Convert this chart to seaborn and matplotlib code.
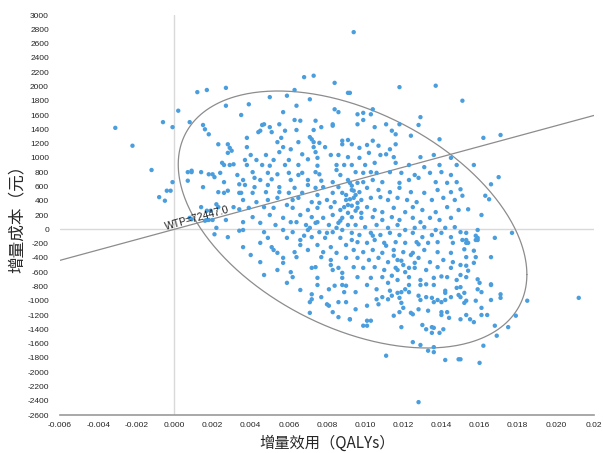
import numpy as np
import pandas as pd
import matplotlib
matplotlib.use("Agg")
import matplotlib.pyplot as plt
import seaborn as sns

# Incremental QALYs and incremental cost (yuan) of the simulated replicates,
# grouped by region of the cost-effectiveness plane.
qaly_outer = [-0.0031, -0.0022, -0.0012, -0.0001, -0.0004, -0.0002, -0.0008, -0.0005, 0.0002, -0.0006,
              -0.0001, 0.0008, 0.0012, 0.0017, 0.0027, 0.0027, 0.0015, 0.0016, 0.0018, 0.0023,
              0.0028, 0.0029, 0.0035, 0.0094, 0.0068, 0.0073, 0.0084, 0.0118, 0.0137, 0.0151,
              0.0162, 0.0171]
cost_outer = [1420, 1170, 830, 660, 540, 540, 450, 400, 1660, 1500,
              1430, 1500, 1920, 1950, 1980, 1730, 1460, 1400, 1330, 1190,
              1190, 1140, 1600, 2760, 2130, 2150, 2050, 1990, 2010, 1800,
              1280, 1320]

qaly_upper_left = [0.0063, 0.0050, 0.0059, 0.0071, 0.0039, 0.0057, 0.0064, 0.0084, 0.0086, 0.0091,
                   0.0046, 0.0047, 0.0050, 0.0055, 0.0063, 0.0066, 0.0074, 0.0083, 0.0083, 0.0045,
                   0.0044, 0.0051, 0.0058, 0.0064, 0.0073, 0.0077, 0.0038, 0.0056, 0.0054, 0.0065,
                   0.0071, 0.0072, 0.0073, 0.0076, 0.0079, 0.0088, 0.0091, 0.0088, 0.0038, 0.0057,
                   0.0061, 0.0073]
cost_upper_left = [1950, 1850, 1870, 1820, 1750, 1640, 1730, 1680, 1640, 1910,
                   1460, 1470, 1430, 1470, 1530, 1520, 1520, 1470, 1450, 1380,
                   1360, 1360, 1380, 1390, 1390, 1430, 1280, 1280, 1220, 1220,
                   1290, 1260, 1220, 1210, 1150, 1240, 1250, 1190, 1150, 1150,
                   1120, 1150]

qaly_upper_right = [0.0092, 0.0096, 0.0099, 0.0103, 0.0104, 0.0099, 0.0096, 0.0105, 0.0111, 0.0118,
                    0.0114, 0.0116, 0.0129, 0.0128, 0.0124, 0.0139, 0.0093, 0.0097, 0.0101, 0.0104,
                    0.0107, 0.0116, 0.0113]
cost_upper_right = [1910, 1610, 1630, 1610, 1680, 1530, 1470, 1430, 1470, 1470,
                    1380, 1330, 1570, 1460, 1310, 1260, 1190, 1140, 1180, 1240,
                    1170, 1190, 1120]

qaly_left = [0.0007, 0.0009, 0.0009, 0.0014, 0.0018, 0.0020, 0.0024, 0.0021, 0.0007, 0.0015,
             0.0026, 0.0028, 0.0030, 0.0025, 0.0026, 0.0029, 0.0031, 0.0033, 0.0034, 0.0023,
             0.0026, 0.0028, 0.0034, 0.0014, 0.0022, 0.0023, 0.0017, 0.0019, 0.0031, 0.0034,
             0.0008, 0.0009, 0.0016, 0.0017, 0.0018, 0.0020, 0.0027, 0.0022, 0.0034, 0.0021,
             0.0028]
cost_left = [800, 820, 800, 800, 770, 770, 790, 730, 680, 590,
             660, 1070, 1100, 930, 900, 900, 910, 760, 630, 520,
             510, 540, 510, 310, 350, 310, 260, 260, 310, 280,
             160, 140, 120, 130, 130, 130, 130, 20, -20, -70,
             -110]

qaly_mid_left = [0.0040, 0.0048, 0.0055, 0.0067, 0.0074, 0.0082, 0.0086, 0.0091, 0.0037, 0.0043,
                 0.0052, 0.0060, 0.0070, 0.0075, 0.0038, 0.0046, 0.0050, 0.0058, 0.0065, 0.0075,
                 0.0085, 0.0089, 0.0041, 0.0049, 0.0054, 0.0060, 0.0065, 0.0067, 0.0074, 0.0076,
                 0.0085, 0.0087, 0.0036, 0.0042, 0.0045, 0.0051, 0.0061, 0.0070, 0.0077, 0.0083,
                 0.0091, 0.0037, 0.0042, 0.0049, 0.0055, 0.0063, 0.0070, 0.0074, 0.0078, 0.0086,
                 0.0035, 0.0041, 0.0048, 0.0055, 0.0060, 0.0067, 0.0075, 0.0083, 0.0088, 0.0036,
                 0.0043, 0.0049, 0.0054, 0.0062, 0.0065, 0.0072, 0.0076, 0.0080, 0.0084, 0.0090,
                 0.0039, 0.0047, 0.0052, 0.0059, 0.0062, 0.0070, 0.0075, 0.0082, 0.0087, 0.0091,
                 0.0041, 0.0050, 0.0057, 0.0066, 0.0072, 0.0078, 0.0083, 0.0088, 0.0036, 0.0045,
                 0.0053, 0.0061, 0.0069, 0.0074, 0.0081, 0.0086, 0.0091, 0.0036, 0.0047, 0.0057,
                 0.0062, 0.0070, 0.0076, 0.0083, 0.0088, 0.0049, 0.0059, 0.0066, 0.0072, 0.0079,
                 0.0087, 0.0036, 0.0045, 0.0051, 0.0066, 0.0075, 0.0082, 0.0090, 0.0052, 0.0054,
                 0.0063, 0.0070, 0.0078, 0.0085, 0.0057, 0.0064, 0.0077, 0.0082, 0.0090, 0.0057,
                 0.0072, 0.0074, 0.0082, 0.0086, 0.0054, 0.0061, 0.0088, 0.0047, 0.0062, 0.0075,
                 0.0083, 0.0088]
cost_mid_left = [1040, 1040, 1080, 1050, 1080, 1040, 1040, 1010, 970, 970,
                 970, 970, 980, 1000, 900, 900, 890, 900, 900, 890,
                 900, 900, 800, 790, 770, 790, 760, 790, 800, 770,
                 830, 760, 690, 720, 690, 700, 690, 690, 680, 660,
                 690, 620, 590, 620, 590, 580, 620, 580, 590, 590,
                 510, 510, 520, 520, 510, 510, 480, 510, 510, 410,
                 380, 410, 440, 410, 440, 380, 370, 410, 380, 410,
                 300, 310, 300, 340, 300, 270, 300, 310, 270, 340,
                 170, 200, 160, 200, 170, 160, 200, 160, 100, 90,
                 60, 100, 60, 90, 60, 90, 60, -10, -40, -10,
                 -40, -10, -40, -40, -10, -120, -120, -150, -110, -120,
                 -120, -250, -190, -250, -220, -220, -250, -220, -290, -330,
                 -320, -290, -320, -330, -400, -390, -390, -430, -400, -470,
                 -540, -530, -500, -540, -570, -600, -610, -640, -670, -680,
                 -570, -680]

qaly_mid_right = [0.0097, 0.0102, 0.0108, 0.0111, 0.0115, 0.0129, 0.0136, 0.0145, 0.0093, 0.0100,
                  0.0105, 0.0116, 0.0123, 0.0131, 0.0139, 0.0148, 0.0095, 0.0099, 0.0103, 0.0106,
                  0.0113, 0.0119, 0.0126, 0.0134, 0.0140, 0.0145, 0.0092, 0.0096, 0.0099, 0.0104,
                  0.0109, 0.0118, 0.0123, 0.0128, 0.0137, 0.0143, 0.0148, 0.0093, 0.0097, 0.0101,
                  0.0107, 0.0113, 0.0118, 0.0124, 0.0131, 0.0138, 0.0145, 0.0094, 0.0098, 0.0103,
                  0.0108, 0.0112, 0.0117, 0.0122, 0.0127, 0.0135, 0.0141, 0.0147, 0.0096, 0.0101,
                  0.0105, 0.0109, 0.0115, 0.0121, 0.0125, 0.0130, 0.0137, 0.0143, 0.0149, 0.0093,
                  0.0098, 0.0104, 0.0109, 0.0114, 0.0118, 0.0125, 0.0129, 0.0134, 0.0139, 0.0145,
                  0.0095, 0.0100, 0.0106, 0.0112, 0.0117, 0.0121, 0.0126, 0.0131, 0.0137, 0.0142,
                  0.0147, 0.0093, 0.0097, 0.0103, 0.0108, 0.0113, 0.0118, 0.0125, 0.0130, 0.0135,
                  0.0140, 0.0145, 0.0096, 0.0101, 0.0105, 0.0110, 0.0116, 0.0121, 0.0127, 0.0133,
                  0.0138, 0.0146, 0.0094, 0.0099, 0.0104, 0.0109, 0.0115, 0.0120, 0.0125, 0.0131,
                  0.0138, 0.0145, 0.0096, 0.0102, 0.0107, 0.0112, 0.0117, 0.0120, 0.0123, 0.0128,
                  0.0134, 0.0141, 0.0146, 0.0094, 0.0099, 0.0105, 0.0110, 0.0116, 0.0121, 0.0126,
                  0.0132, 0.0138, 0.0145, 0.0096, 0.0103, 0.0109, 0.0117, 0.0123, 0.0129, 0.0136,
                  0.0143, 0.0148]
cost_mid_right = [1000, 1070, 1040, 1050, 1010, 1010, 1040, 1000, 900, 900,
                  930, 930, 900, 870, 900, 900, 800, 790, 800, 790,
                  800, 790, 760, 790, 800, 760, 650, 650, 660, 690,
                  660, 650, 690, 720, 660, 650, 660, 550, 520, 580,
                  550, 520, 580, 520, 510, 550, 520, 440, 410, 440,
                  450, 410, 440, 410, 380, 410, 440, 410, 300, 310,
                  270, 240, 300, 240, 310, 270, 240, 310, 270, 170,
                  160, 170, 130, 170, 130, 160, 100, 160, 130, 160,
                  60, 30, 60, 20, 60, -10, 20, 30, -10, 20,
                  30, -50, -80, -50, -80, -50, -80, -50, -110, -80,
                  -50, -110, -180, -190, -150, -190, -180, -190, -180, -190,
                  -180, -190, -290, -320, -290, -330, -290, -320, -330, -290,
                  -320, -330, -400, -430, -400, -460, -430, -500, -540, -400,
                  -460, -430, -460, -530, -540, -530, -570, -540, -600, -540,
                  -570, -530, -540, -670, -680, -670, -710, -670, -710, -680,
                  -670, -710]

qaly_core = [0.0093, 0.0094, 0.0095, 0.0092, 0.0096, 0.0093, 0.0095, 0.0098, 0.0091, 0.0090,
             0.0089, 0.0087, 0.0085, 0.0080, 0.0075, 0.0068, 0.0071, 0.0064, 0.0093, 0.0104,
             0.0111, 0.0115, 0.0119, 0.0124, 0.0126, 0.0117, 0.0114, 0.0112, 0.0106, 0.0101,
             0.0095, 0.0075, 0.0066, 0.0059, 0.0045, 0.0040, 0.0084, 0.0132, 0.0140, 0.0128]
cost_core = [610, 540, 480, 420, 370, 330, 260, 230, 230, 480,
             310, 120, 20, -50, 100, -90, 20, 100, -150, -90,
             -230, -370, -440, -360, -470, -570, -650, -750, -840, -780,
             -880, -780, -850, -750, -460, -360, -790, -770, -660, -210]

qaly_right = [0.0157, 0.0170, 0.0166, 0.0163, 0.0165, 0.0151, 0.0154, 0.0161, 0.0150, 0.0177,
              0.0159, 0.0168, 0.0158, 0.0159, 0.0159, 0.0158, 0.0151, 0.0153, 0.0153, 0.0154,
              0.0150, 0.0153, 0.0152, 0.0157, 0.0166, 0.0153, 0.0158, 0.0157, 0.0150, 0.0153,
              0.0154, 0.0150, 0.0153, 0.0159, 0.0160, 0.0166]
cost_right = [900, 730, 630, 470, 420, 470, 280, 200, 560, -50,
              -10, -120, -90, -120, -150, -150, -150, -150, -190, -190,
              -40, -50, -280, -300, -390, -390, -390, -470, -500, -510,
              -580, -640, -670, -700, -750, -770]

qaly_lower_right = [0.0150, 0.0152, 0.0159, 0.0161, 0.0166, 0.0171, 0.0171, 0.0166, 0.0152, 0.0153,
                    0.0158, 0.0150, 0.0161, 0.0153, 0.0161, 0.0164, 0.0155, 0.0157, 0.0185, 0.0212,
                    0.0179, 0.0168, 0.0175, 0.0169, 0.0162, 0.0150, 0.0160]
cost_lower_right = [-810, -890, -840, -880, -780, -910, -960, -990, -1030, -1000,
                    -1000, -950, -1100, -1200, -1200, -1200, -1260, -1300, -1000, -960,
                    -1210, -1350, -1370, -1490, -1630, -1820, -1870]

qaly_lower_mid = [0.0095, 0.0101, 0.0092, 0.0101, 0.0103, 0.0099, 0.0101, 0.0106, 0.0109, 0.0112,
                  0.0107, 0.0113, 0.0114, 0.0117, 0.0118, 0.0119, 0.0121, 0.0123, 0.0119, 0.0120,
                  0.0118, 0.0124, 0.0125, 0.0115, 0.0119, 0.0128, 0.0128, 0.0129, 0.0129, 0.0132,
                  0.0135, 0.0136, 0.0138, 0.0140, 0.0142, 0.0142, 0.0145, 0.0142, 0.0148, 0.0149,
                  0.0133, 0.0140, 0.0143, 0.0140, 0.0144, 0.0130, 0.0132, 0.0135, 0.0136, 0.0135,
                  0.0139, 0.0141, 0.0150, 0.0125, 0.0129, 0.0136, 0.0133, 0.0136, 0.0142, 0.0149,
                  0.0111, 0.0128, 0.0123, 0.0136]
cost_lower_mid = [-1120, -1070, -1260, -1280, -1280, -1350, -1350, -980, -950, -980,
                  -1050, -860, -930, -890, -960, -880, -840, -880, -1030, -1100,
                  -1160, -1170, -1190, -1210, -1370, -1120, -930, -990, -780, -950,
                  -960, -1020, -990, -1020, -860, -890, -950, -990, -820, -920,
                  -1140, -1160, -1160, -1200, -1240, -1340, -1400, -1370, -1380, -1450,
                  -1450, -1400, -1260, -1580, -1620, -1650, -1700, -1720, -1830, -1820,
                  -1770, -2420, -780, -780]

qaly_lower_left = [0.0072, 0.0072, 0.0071, 0.0077, 0.0081, 0.0080, 0.0081, 0.0083, 0.0086, 0.0090,
                   0.0089, 0.0090, 0.0071, 0.0086, 0.0092, 0.0088]
cost_lower_left = [-910, -980, -1020, -950, -840, -1050, -1070, -1160, -1020, -1020,
                   -880, -790, -1170, -1230, -1260, -780]

# Axis ticks
x_ticks = [-0.006, -0.004, -0.002, 0.0, 0.002, 0.004, 0.006, 0.008, 0.010,
           0.012, 0.014, 0.016, 0.018, 0.020, 0.022]
x_tick_labels = ["-0.006", "-0.004", "-0.002", "0.000", "0.002", "0.004", "0.006", "0.008",
                 "0.010", "0.012", "0.014", "0.016", "0.018", "0.020", "0.02"]
y_ticks = [-2600, -2400, -2200, -2000, -1800, -1600, -1400, -1200, -1000, -800, -600, -400,
           -200, 0, 200, 400, 600, 800, 1000, 1200, 1400, 1600, 1800, 2000, 2200, 2400,
           2600, 2800, 3000]

# Willingness-to-pay threshold (yuan per QALY)
wtp = 72447.0

# 95% confidence ellipse: centre and covariance (QALY, yuan)
ellipse_center = np.array([0.00934, 137.0])
ellipse_cov = np.array([[0.00914 ** 2, -7.04],
                        [-7.04, 1799.0 ** 2]])

qaly_all = (qaly_outer + qaly_upper_left + qaly_upper_right + qaly_left + qaly_mid_left
            + qaly_mid_right + qaly_core + qaly_right + qaly_lower_right + qaly_lower_mid
            + qaly_lower_left)
cost_all = (cost_outer + cost_upper_left + cost_upper_right + cost_left + cost_mid_left
            + cost_mid_right + cost_core + cost_right + cost_lower_right + cost_lower_mid
            + cost_lower_left)
df = pd.DataFrame({"dq": qaly_all, "dc": cost_all})

sns.set_style("white")
plt.rcParams["font.family"] = ["Noto Sans CJK SC", "DejaVu Sans"]

fig = plt.figure(figsize=(6.03, 4.53), dpi=100)
ax = fig.add_axes([60 / 603, 1 - 415 / 453, 534 / 603, 400 / 453])

# quadrant lines through the origin
ax.axhline(0, color="#d9d9d9", lw=1.0, zorder=0)
ax.axvline(0, color="#d9d9d9", lw=1.0, zorder=0)

sns.scatterplot(data=df, x="dq", y="dc", ax=ax, color="#4a9ede", s=10,
                edgecolor="none", linewidth=0, zorder=3)

# WTP threshold line
xs = np.array([-0.006, 0.022])
ax.plot(xs, wtp * xs, color="#8c8c8c", lw=0.9, zorder=2)
ax.text(0.0012, 150, "WTP=72447.0", rotation=15.5, rotation_mode="anchor",
        ha="center", va="center", fontsize=7.5, color="#222222",
        family=["Liberation Sans", "DejaVu Sans"], zorder=4)

# confidence ellipse
t = np.linspace(0, 2 * np.pi, 400)
L = np.linalg.cholesky(ellipse_cov)
ring = ellipse_center[:, None] + L @ np.vstack([np.cos(t), np.sin(t)])
ax.plot(ring[0], ring[1], color="#8c8c8c", lw=0.9, zorder=2)

ax.set_xlim(-0.006, 0.022)
ax.set_ylim(-2600, 3000)
ax.set_xticks(x_ticks)
ax.set_xticklabels(x_tick_labels, family=["Liberation Sans", "DejaVu Sans"], fontsize=6)
ax.set_yticks(y_ticks)
ax.set_yticklabels([str(v) for v in y_ticks], family=["Liberation Sans", "DejaVu Sans"], fontsize=6)
ax.tick_params(axis="x", direction="out", length=3, width=0.8, color="#a0a0a0", pad=2)
ax.tick_params(axis="y", length=0, pad=8)

for side in ["top", "right", "left"]:
    ax.spines[side].set_visible(False)
ax.spines["bottom"].set_color("#9a9a9a")
ax.spines["bottom"].set_linewidth(1.2)

ax.set_xlabel("增量效用（QALYs）", fontsize=11, labelpad=4)
ax.set_ylabel("增量成本（元）", fontsize=12, labelpad=1)

fig.savefig("out.png", dpi=100)
